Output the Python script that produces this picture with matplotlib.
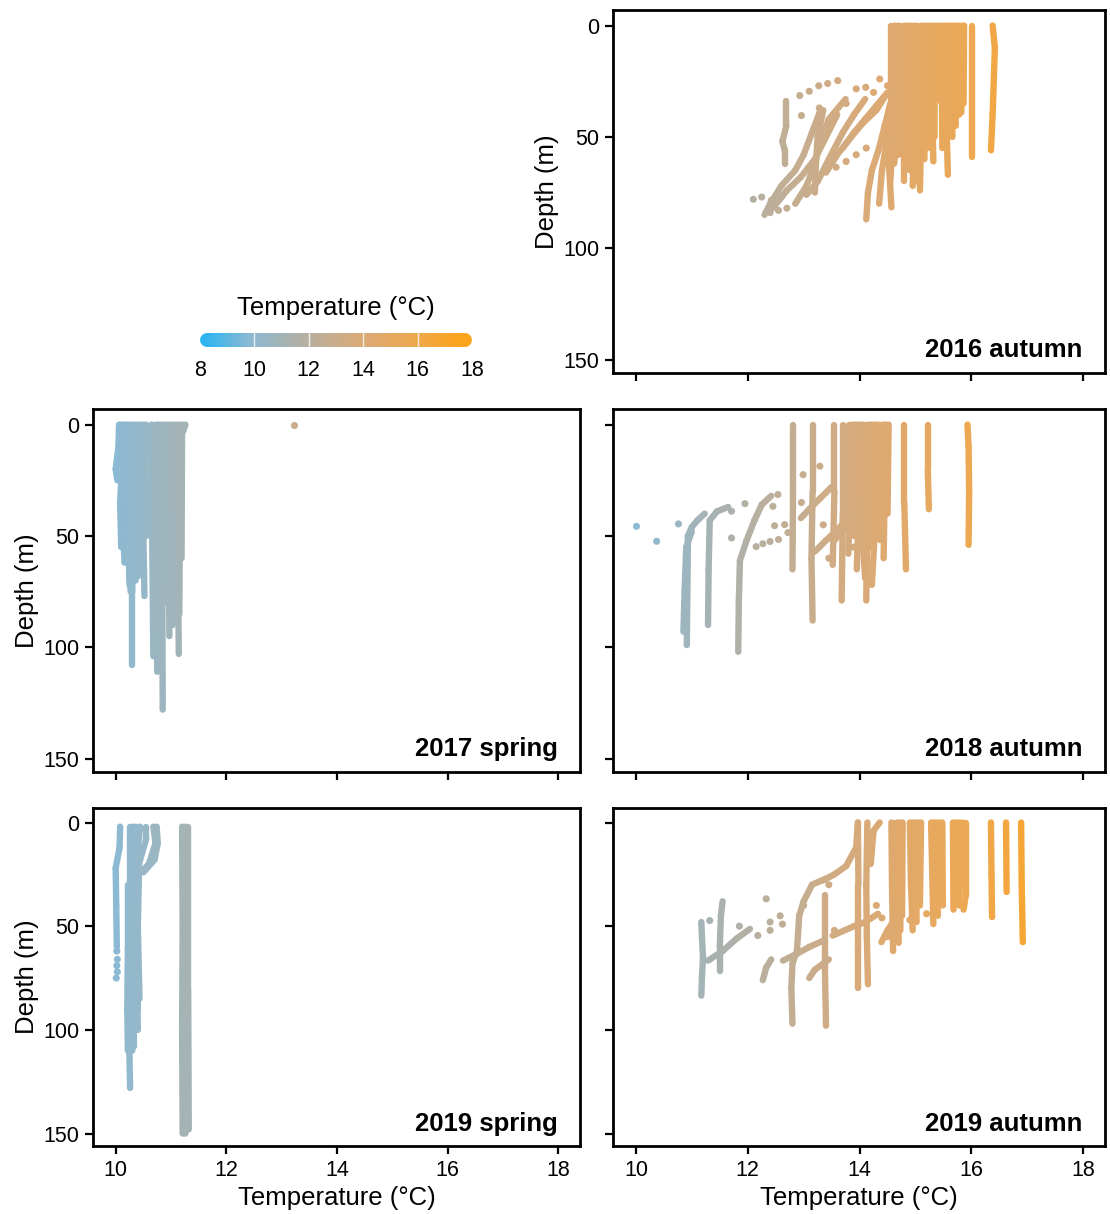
"""
Temperature profiles (depth vs temperature) for five survey seasons
"""
import matplotlib
matplotlib.use('Agg')
import matplotlib.pyplot as plt
from matplotlib.collections import LineCollection
from matplotlib.colors import LinearSegmentedColormap, Normalize
import numpy as np

plt.rcParams['font.family'] = ['Liberation Sans', 'DejaVu Sans']

temp_stops = [8, 10, 12, 14, 16, 18]
stop_colors = ['#18b4f8', '#8cb9d3', '#b4b0a3', '#d8aa7a', '#eda852', '#ffa314']
x_ticks = [10, 12, 14, 16, 18]
y_ticks = [0, 50, 100, 150]

# each profile: (temperatures, depths) read at the bends of the trace
autumn16_lines = [
    ([16.38, 16.42, 16.38, 16.35], [0, 10, 40, 56]),
    ([16.02, 16.02, 16.02], [0, 40, 59]),
    ([15.87, 15.86], [0, 35]),
    ([15.83, 15.82], [0, 39]),
    ([15.77, 15.78], [0, 40]),
    ([15.71, 15.72], [0, 45]),
    ([15.65, 15.66], [0, 50]),
    ([15.59, 15.60], [0, 45]),
    ([15.53, 15.55, 15.58], [0, 40, 67]),
    ([15.47, 15.48], [0, 55]),
    ([15.41, 15.43], [0, 33.7]),
    ([15.35, 15.34], [0, 50]),
    ([15.29, 15.30, 15.32], [0, 40, 61]),
    ([15.23, 15.22], [0, 55]),
    ([15.17, 15.16], [0, 60]),
    ([15.11, 15.10, 15.08], [0, 50, 74]),
    ([15.05, 15.05, 15.02], [0, 50, 70]),
    ([14.99, 14.98, 14.95], [0, 50, 72]),
    ([14.93, 14.92, 14.90], [0, 45, 65]),
    ([14.87, 14.86], [0, 55]),
    ([14.81, 14.80, 14.80], [0, 50, 70]),
    ([14.75, 14.75, 14.70], [0, 40, 58]),
    ([14.69, 14.68, 14.62], [0, 45, 62]),
    ([14.63, 14.62, 14.55], [0, 40, 70]),
    ([14.57, 14.57, 14.52, 14.57], [0, 35, 60, 81.6]),
    ([12.69, 12.69, 12.62, 12.66, 12.66], [33.7, 45, 52, 56, 62]),
    ([12.30, 12.40, 12.60, 12.85, 13.00, 13.15, 13.30], [85, 80, 72, 65, 58, 48, 38]),
    ([12.45, 12.70, 12.95, 13.20, 13.40, 13.60], [82, 74, 68, 60, 50, 40]),
    ([12.85, 13.05, 13.20, 13.30, 13.45, 13.75], [80, 72, 62, 52, 42, 33]),
    ([13.05, 13.25, 13.45, 13.70, 13.90, 14.10], [76, 70, 60, 48, 40, 33]),
    ([13.20, 13.22, 13.25, 13.35], [75, 62, 50, 38]),
    ([13.40, 13.60, 13.85, 14.05, 14.30, 14.45], [66, 58, 50, 44, 38, 32]),
    ([13.70, 13.90, 14.10, 14.30, 14.50], [55, 48, 42, 36, 30]),
    ([14.12, 14.15, 14.22, 14.35, 14.45, 14.55], [87, 75, 65, 55, 45, 35]),
    ([14.35, 14.40, 14.50, 14.58], [80, 65, 50, 40]),
]
autumn16_dot_t = [12.93, 13.10, 13.27, 13.43, 13.61, 13.94, 14.11, 14.36, 14.50,
                  12.96, 13.28, 13.76, 14.25,
                  13.58, 13.76, 13.94, 14.12,
                  12.10, 12.25, 12.42, 12.60, 12.40, 12.55, 12.70]
autumn16_dot_d = [31.4, 29.5, 27, 26, 24.7, 28.4, 27.7, 24, 27,
                  40.4, 37, 35, 30,
                  63.6, 61, 58, 55,
                  78, 77, 78.5, 77, 84, 83, 82]

spring17_lines = [
    ([10.06, 10.05, 10.00, 10.03], [0, 10, 20, 25]),
    ([10.10, 10.12, 10.08, 10.10], [0, 15, 35, 55]),
    ([10.15, 10.17, 10.13, 10.16], [0, 20, 45, 62]),
    ([10.20, 10.18, 10.22, 10.25], [0, 20, 45, 72]),
    ([10.25, 10.27, 10.24, 10.27], [0, 30, 55, 75]),
    ([10.30, 10.31, 10.30, 10.30], [0, 40, 75, 108]),
    ([10.35, 10.37, 10.33, 10.36], [0, 25, 50, 70]),
    ([10.40, 10.43, 10.39, 10.41], [0, 20, 45, 68]),
    ([10.45, 10.46, 10.43], [0, 30, 60]),
    ([10.50, 10.48, 10.50, 10.52], [0, 25, 50, 77]),
    ([10.55, 10.54, 10.56], [0, 20, 50]),
    ([10.65, 10.66, 10.68], [0, 50, 104]),
    ([10.70, 10.70, 10.71], [0, 45, 90]),
    ([10.75, 10.74, 10.75], [0, 60, 111]),
    ([10.80, 10.81, 10.80], [0, 50, 95]),
    ([10.85, 10.84, 10.85], [0, 60, 128]),
    ([10.90, 10.91, 10.88], [0, 40, 80]),
    ([10.95, 10.96, 10.97], [0, 50, 95]),
    ([11.00, 11.01, 11.00], [0, 40, 85]),
    ([11.05, 11.06, 11.03], [0, 40, 90]),
    ([11.10, 11.12, 11.14], [0, 50, 103]),
    ([11.15, 11.16, 11.15], [0, 40, 85]),
    ([11.20, 11.19], [0, 60]),
    ([11.26, 11.22], [0, 3]),
]
spring17_dot_t = [13.22]
spring17_dot_d = [0]

autumn18_lines = [
    ([11.23, 11.10, 11.00, 10.93, 10.92, 10.91], [40, 43, 46, 50, 75, 99]),
    ([11.00, 10.90, 10.87, 10.85], [48, 55, 75, 93]),
    ([11.65, 11.45, 11.32, 11.30, 11.29], [37, 39, 43, 65, 90]),
    ([12.42, 12.25, 12.12, 11.98, 11.86, 11.84, 11.83], [32, 36, 43, 52, 61, 80, 102]),
    ([12.81, 12.81, 12.80], [0, 30, 65]),
    ([13.16, 13.16, 13.14, 13.16], [0, 30, 60, 88]),
    ([13.55, 13.55, 13.52], [0, 30, 63]),
    ([13.70, 13.70, 13.68], [0, 40, 79]),
    ([13.82, 13.82, 13.80], [0, 40, 58]),
    ([13.87, 13.86], [0, 45]),
    ([13.92, 13.90], [0, 50]),
    ([13.97, 13.96], [0, 42]),
    ([14.02, 13.98, 13.95], [0, 40, 65]),
    ([14.07, 14.05, 14.10], [0, 50, 69]),
    ([14.12, 14.12], [0, 46]),
    ([14.17, 14.14, 14.12], [0, 40, 79]),
    ([14.22, 14.20], [0, 55]),
    ([14.27, 14.26], [0, 48]),
    ([14.32, 14.28, 14.22], [0, 45, 72]),
    ([14.37, 14.37], [0, 52]),
    ([14.42, 14.41], [0, 45]),
    ([14.47, 14.43], [0, 60]),
    ([14.52, 14.50], [0, 40]),
    ([14.80, 14.80, 14.83], [0, 35, 65]),
    ([15.22, 15.22, 15.24], [0, 20, 38]),
    ([15.93, 15.95, 15.96, 15.95], [0, 10, 30, 54]),
    ([12.95, 13.10, 13.30, 13.50], [42, 38, 33, 28]),
    ([13.20, 13.40, 13.65, 13.85], [57, 52, 46, 40]),
    ([13.55, 13.75, 13.95, 14.15], [52, 46, 40, 32]),
]
autumn18_dot_t = [10.01, 10.37, 10.76, 11.71, 11.71, 11.95, 12.54, 12.45, 12.48, 12.66, 12.15, 12.27,
                  12.40, 12.55, 12.72, 13.29, 12.99, 12.96, 13.35, 13.45, 13.60, 13.90, 14.00, 14.30]
autumn18_dot_d = [45.7, 52.4, 44.6, 38.9, 50.9, 35.5, 31.4, 36.7, 45.4, 44.9, 54.8, 53.5,
                  52.5, 51.6, 48.5, 18.7, 22.5, 35, 45, 60, 50, 55, 42, 48]

spring19_lines = [
    ([10.08, 10.07, 10.00, 10.01, 10.02], [2, 12, 22, 40, 60]),
    ([10.22, 10.22, 10.21, 10.22], [30, 60, 90, 110]),
    ([10.26, 10.26, 10.25, 10.24, 10.26], [2, 30, 60, 100, 128]),
    ([10.30, 10.29, 10.28, 10.30], [2, 40, 80, 110]),
    ([10.36, 10.33, 10.30, 10.32, 10.33], [2, 20, 50, 80, 108]),
    ([10.44, 10.40, 10.36, 10.38, 10.40], [2, 12, 25, 60, 100]),
    ([10.55, 10.55, 10.42, 10.38, 10.40], [2, 8, 20, 45, 90]),
    ([10.68, 10.72, 10.60, 10.42, 10.40, 10.43], [2, 10, 20, 25, 50, 85]),
    ([10.74, 10.76, 10.70, 10.50], [2, 10, 18, 24]),
    ([11.20, 11.21, 11.20, 11.21], [2, 50, 100, 150]),
    ([11.26, 11.27, 11.25, 11.26], [2, 50, 100, 150]),
    ([11.31, 11.31, 11.32], [2, 80, 148]),
]
spring19_dot_t = [10.02, 10.03, 10.02, 10.03, 10.01]
spring19_dot_d = [62, 66, 69, 72, 75]

autumn19_lines = [
    ([11.17, 11.18, 11.20, 11.18, 11.17], [48, 55, 65, 75, 83.5]),
    ([11.55, 11.52, 11.50, 11.50], [38, 45, 60, 71.5]),
    ([11.29, 11.55, 11.80, 12.04], [66.6, 62, 56, 51.3]),
    ([12.42, 12.33, 12.27], [66, 70, 76]),
    ([13.40, 13.15, 13.00, 12.92, 12.88, 12.80, 12.78, 12.80], [27, 30, 38, 45, 62, 68, 80, 97]),
    ([13.38, 13.38, 13.40], [35, 70, 98]),
    ([12.63, 12.90, 13.10, 13.35], [66.6, 63, 60, 57]),
    ([13.34, 13.55, 13.76, 13.94, 13.97], [28, 25, 21, 12, 0]),
    ([13.97, 13.98, 13.98, 13.98], [0, 30, 60, 80]),
    ([14.14, 14.12, 14.13, 14.15], [0, 30, 55, 78]),
    ([14.36, 14.25, 14.20], [0, 4, 20]),
    ([14.57, 14.58, 14.60], [0, 30, 62]),
    ([14.62, 14.62], [0, 50]),
    ([14.67, 14.68, 14.70], [0, 30, 58]),
    ([14.72, 14.73], [0, 52]),
    ([14.77, 14.76], [0, 45]),
    ([14.90, 14.92, 14.95], [0, 30, 52]),
    ([14.95, 14.96], [0, 44]),
    ([15.00, 15.02], [0, 48]),
    ([15.05, 15.06], [0, 40]),
    ([15.10, 15.08], [0, 40]),
    ([15.28, 15.30, 15.32], [0, 25, 49]),
    ([15.33, 15.34], [0, 42]),
    ([15.38, 15.40], [0, 45]),
    ([15.43, 15.44], [0, 38]),
    ([15.48, 15.49], [0, 40]),
    ([15.67, 15.68], [0, 42]),
    ([15.72, 15.73], [0, 36]),
    ([15.78, 15.80, 15.78], [0, 25, 40]),
    ([15.84, 15.85], [0, 30]),
    ([15.90, 15.90, 15.86], [0, 35, 42]),
    ([16.35, 16.36, 16.37], [0, 25, 45.6]),
    ([16.62, 16.63], [0, 33.5]),
    ([16.89, 16.90, 16.92], [0, 30, 57.7]),
    ([13.52, 13.90, 14.10, 14.33], [54.5, 50, 48, 44]),
    ([14.39, 14.50, 14.62], [57.7, 52, 47]),
    ([13.10, 13.20, 13.45], [75, 71, 66]),
]
autumn19_dot_t = [11.32, 11.85, 12.18, 12.33, 12.40, 12.40, 12.58, 12.62, 13.00, 13.45, 13.55,
                  14.30, 14.40, 14.50, 14.70, 14.90, 15.00, 15.20]
autumn19_dot_d = [47.3, 50, 54.5, 36.8, 48, 52, 45, 49, 40, 30, 52,
                  40, 46, 55, 50, 47, 43, 44]

cmap = LinearSegmentedColormap.from_list(
    'temp', [((t - 8) / 10, c) for t, c in zip(temp_stops, stop_colors)])
norm = Normalize(8, 18)

W, H = 1110, 1214


def box(x0, y0, x1, y1):
    return [x0 / W, 1 - y1 / H, (x1 - x0) / W, (y1 - y0) / H]


def draw(ax, lines, dot_t, dot_d):
    segs, cols = [], []
    for t, d in lines:
        for i in range(len(t) - 1):
            segs.append([(t[i], d[i]), (t[i + 1], d[i + 1])])
            cols.append(cmap(norm((t[i] + t[i + 1]) / 2)))
    ax.add_collection(LineCollection(segs, colors=cols, linewidths=4.6,
                                     capstyle='round', joinstyle='round'))
    ax.scatter(dot_t, dot_d, c=dot_t, cmap=cmap, norm=norm, s=26, linewidths=0)


def style(ax, title, ylab=True, xlab=True):
    ax.set_xlim(9.59, 18.39)
    ax.set_ylim(156, -7)
    ax.set_xticks(x_ticks)
    ax.set_yticks(y_ticks)
    ax.tick_params(direction='out', length=6, width=1.6, labelsize=15.5, pad=4)
    for s in ax.spines.values():
        s.set_linewidth(2)
    if ylab:
        ax.set_ylabel('Depth (m)', fontsize=18.5, labelpad=3)
    else:
        ax.set_yticklabels([])
    if xlab:
        ax.set_xlabel('Temperature (°C)', fontsize=18.5, labelpad=4)
    else:
        ax.set_xticklabels([])
    ax.text(0.955, 0.044, title, transform=ax.transAxes, ha='right', va='baseline',
            fontsize=18.5, fontweight='bold')


fig = plt.figure(figsize=(W / 100, H / 100), dpi=100)

panels = [
    (box(613, 10, 1105, 373), autumn16_lines, autumn16_dot_t, autumn16_dot_d, '2016 autumn', True, False),
    (box(93, 409, 580, 772), spring17_lines, spring17_dot_t, spring17_dot_d, '2017 spring', True, False),
    (box(613, 409, 1105, 772), autumn18_lines, autumn18_dot_t, autumn18_dot_d, '2018 autumn', False, False),
    (box(93, 808, 580, 1146), spring19_lines, spring19_dot_t, spring19_dot_d, '2019 spring', True, True),
    (box(613, 808, 1105, 1146), autumn19_lines, autumn19_dot_t, autumn19_dot_d, '2019 autumn', False, True),
]
for rect, lines, dt, dd, title, ylab, xlab in panels:
    ax = fig.add_axes(rect)
    draw(ax, lines, dt, dd)
    style(ax, title, ylab, xlab)

# colour legend
cax = fig.add_axes(box(190, 330, 482, 350))
cax.set_xlim(8 - 10 / 27.2, 18 + 10 / 27.2)
cax.set_ylim(0, 1)
cax.axis('off')
gx = np.linspace(8.26, 17.74, 150)
gsegs = [[(gx[i], 0.5), (gx[i + 1], 0.5)] for i in range(len(gx) - 1)]
gcols = [cmap(norm((gx[i] + gx[i + 1]) / 2)) for i in range(len(gx) - 1)]
cax.add_collection(LineCollection(gsegs, colors=gcols, linewidths=10, capstyle='round'))
for v in [10, 12, 14, 16]:
    cax.plot([v, v], [0.15, 0.85], color='white', lw=1, alpha=0.8)
fig.text(336 / W, 1 - 308 / H, 'Temperature (°C)', ha='center', va='center', fontsize=18.5)
for v in temp_stops:
    fig.text((200 + (v - 8) * 27.2) / W, 1 - 370 / H, str(v), ha='center', va='center', fontsize=15.5)

fig.savefig('out.png', dpi=100)
